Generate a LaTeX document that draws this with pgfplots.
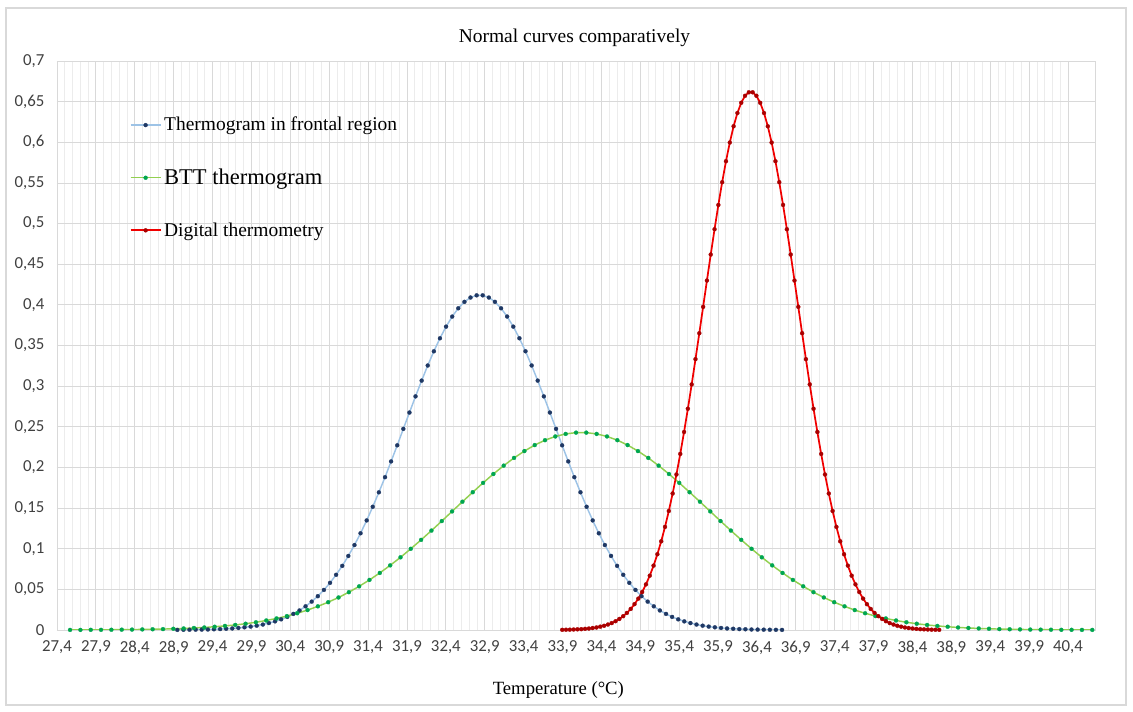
\documentclass[border=0pt]{standalone}
\usepackage{fontspec}
\setmainfont{Liberation Serif}
\newfontfamily\calibri{Carlito}
\usepackage{pgfplots}
\usepackage{pgfplotstable}
\pgfplotsset{compat=1.18}
\definecolor{bluel}{RGB}{157,195,230}
\definecolor{blued}{RGB}{31,56,100}
\definecolor{greenl}{RGB}{146,208,80}
\definecolor{greend}{RGB}{0,166,80}
\definecolor{redl}{RGB}{240,0,0}
\definecolor{redd}{RGB}{170,0,0}
\definecolor{gridmaj}{RGB}{217,217,217}
\definecolor{gridmin}{RGB}{236,236,236}

\pgfplotstableread{
x y
28.947 0.0001
29.026 0.0002
29.104 0.0003
29.183 0.0004
29.261 0.0005
29.340 0.0006
29.418 0.0009
29.497 0.0011
29.575 0.0015
29.654 0.0019
29.732 0.0025
29.811 0.0033
29.890 0.0042
29.968 0.0053
30.047 0.0067
30.125 0.0085
30.204 0.0106
30.282 0.0131
30.361 0.0161
30.439 0.0198
30.518 0.0240
30.596 0.0291
30.675 0.0349
30.754 0.0416
30.832 0.0493
30.911 0.0580
30.989 0.0679
31.068 0.0789
31.146 0.0911
31.225 0.1045
31.303 0.1190
31.382 0.1348
31.460 0.1516
31.539 0.1694
31.618 0.1880
31.696 0.2074
31.775 0.2272
31.853 0.2474
31.932 0.2675
32.010 0.2874
32.089 0.3068
32.167 0.3254
32.246 0.3429
32.324 0.3589
32.403 0.3732
32.482 0.3856
32.560 0.3958
32.639 0.4037
32.717 0.4090
32.796 0.4117
32.874 0.4117
32.953 0.4090
33.031 0.4037
33.110 0.3958
33.188 0.3856
33.267 0.3732
33.346 0.3589
33.424 0.3429
33.503 0.3254
33.581 0.3068
33.660 0.2874
33.738 0.2675
33.817 0.2474
33.895 0.2272
33.974 0.2074
34.052 0.1880
34.131 0.1694
34.210 0.1516
34.288 0.1348
34.367 0.1190
34.445 0.1045
34.524 0.0911
34.602 0.0789
34.681 0.0679
34.759 0.0580
34.838 0.0493
34.916 0.0416
34.995 0.0349
35.074 0.0291
35.152 0.0240
35.231 0.0198
35.309 0.0161
35.388 0.0131
35.466 0.0106
35.545 0.0085
35.623 0.0067
35.702 0.0053
35.780 0.0042
35.859 0.0033
35.938 0.0025
36.016 0.0019
36.095 0.0015
36.173 0.0011
36.252 0.0009
36.330 0.0006
36.409 0.0005
36.487 0.0004
36.566 0.0003
36.644 0.0002
36.723 0.0001
}\blue

\pgfplotstableread{
x y
27.568 0.0001
27.701 0.0001
27.834 0.0002
27.966 0.0002
28.099 0.0003
28.232 0.0004
28.365 0.0005
28.497 0.0007
28.630 0.0009
28.763 0.0011
28.896 0.0015
29.028 0.0019
29.161 0.0025
29.294 0.0031
29.427 0.0040
29.560 0.0050
29.692 0.0062
29.825 0.0077
29.958 0.0095
30.091 0.0117
30.223 0.0142
30.356 0.0171
30.489 0.0206
30.622 0.0245
30.754 0.0291
30.887 0.0342
31.020 0.0400
31.153 0.0465
31.285 0.0537
31.418 0.0616
31.551 0.0702
31.684 0.0795
31.817 0.0894
31.949 0.0999
32.082 0.1109
32.215 0.1223
32.348 0.1340
32.480 0.1459
32.613 0.1578
32.746 0.1695
32.879 0.1810
33.011 0.1919
33.144 0.2022
33.277 0.2117
33.410 0.2201
33.543 0.2275
33.675 0.2335
33.808 0.2381
33.941 0.2412
34.074 0.2428
34.206 0.2428
34.339 0.2412
34.472 0.2381
34.605 0.2335
34.737 0.2275
34.870 0.2201
35.003 0.2117
35.136 0.2022
35.269 0.1919
35.401 0.1810
35.534 0.1695
35.667 0.1578
35.800 0.1459
35.932 0.1340
36.065 0.1223
36.198 0.1109
36.331 0.0999
36.463 0.0894
36.596 0.0795
36.729 0.0702
36.862 0.0616
36.995 0.0537
37.127 0.0465
37.260 0.0400
37.393 0.0342
37.526 0.0291
37.658 0.0245
37.791 0.0206
37.924 0.0171
38.057 0.0142
38.189 0.0117
38.322 0.0095
38.455 0.0077
38.588 0.0062
38.720 0.0050
38.853 0.0040
38.986 0.0031
39.119 0.0025
39.252 0.0019
39.384 0.0015
39.517 0.0011
39.650 0.0009
39.783 0.0007
39.915 0.0005
40.048 0.0004
40.181 0.0003
40.314 0.0002
40.446 0.0002
40.579 0.0001
40.712 0.0001
}\green

\pgfplotstableread{
x y
33.896 0.0002
33.945 0.0003
33.994 0.0004
34.043 0.0006
34.092 0.0008
34.141 0.0010
34.190 0.0014
34.239 0.0018
34.288 0.0024
34.337 0.0031
34.386 0.0041
34.435 0.0052
34.484 0.0067
34.533 0.0085
34.582 0.0108
34.631 0.0136
34.680 0.0170
34.728 0.0210
34.777 0.0259
34.826 0.0318
34.875 0.0386
34.924 0.0467
34.973 0.0561
35.022 0.0668
35.071 0.0792
35.120 0.0932
35.169 0.1091
35.218 0.1268
35.267 0.1464
35.316 0.1679
35.365 0.1913
35.414 0.2166
35.463 0.2436
35.512 0.2722
35.561 0.3021
35.610 0.3332
35.659 0.3651
35.708 0.3975
35.757 0.4299
35.806 0.4619
35.855 0.4930
35.904 0.5229
35.953 0.5509
36.002 0.5767
36.051 0.5997
36.100 0.6197
36.149 0.6360
36.198 0.6486
36.247 0.6572
36.296 0.6615
36.345 0.6615
36.393 0.6572
36.442 0.6486
36.491 0.6360
36.540 0.6197
36.589 0.5997
36.638 0.5767
36.687 0.5509
36.736 0.5229
36.785 0.4930
36.834 0.4619
36.883 0.4299
36.932 0.3975
36.981 0.3651
37.030 0.3332
37.079 0.3021
37.128 0.2722
37.177 0.2436
37.226 0.2166
37.275 0.1913
37.324 0.1679
37.373 0.1464
37.422 0.1268
37.471 0.1091
37.520 0.0932
37.569 0.0792
37.618 0.0668
37.667 0.0561
37.716 0.0467
37.765 0.0386
37.814 0.0318
37.863 0.0259
37.912 0.0210
37.961 0.0170
38.010 0.0136
38.059 0.0108
38.107 0.0085
38.156 0.0067
38.205 0.0052
38.254 0.0041
38.303 0.0031
38.352 0.0024
38.401 0.0018
38.450 0.0014
38.499 0.0010
38.548 0.0008
38.597 0.0006
38.646 0.0004
38.695 0.0003
38.744 0.0002
}\red

\begin{document}
\begin{tikzpicture}
\begin{axis}[
  scale only axis,
  width=778.5pt, height=426.75pt,
  xmin=27.4, xmax=40.747, ymin=0, ymax=0.7,
  xtick={27.4,27.9,28.4,28.9,29.4,29.9,30.4,30.9,31.4,31.9,32.4,32.9,33.4,33.9,34.4,34.9,35.4,35.9,36.4,36.9,37.4,37.9,38.4,38.9,39.4,39.9,40.4},
  ytick={0,0.05,0.1,0.15,0.2,0.25,0.3,0.35,0.4,0.45,0.5,0.55,0.6,0.65,0.7},
  minor x tick num=4,
  xmajorgrids, xminorgrids, ymajorgrids,
  major grid style={draw=gridmaj, line width=0.6pt},
  minor grid style={draw=gridmin, line width=0.6pt},
  major tick length=0pt, minor tick length=0pt,
  axis line style={draw=gridmaj, line width=0.6pt},
  /pgf/number format/assume math mode=true,
  xticklabel style={font=\calibri\fontsize{12.6}{14}\selectfont, text=black!75, yshift=-4.5pt,
    /pgf/number format/.cd, fixed, fixed zerofill, precision=1, use comma},
  yticklabel style={font=\calibri\fontsize{12.6}{14}\selectfont, text=black!75, xshift=-6pt,
    /pgf/number format/.cd, fixed, precision=2, use comma},
  scaled y ticks=false, scaled x ticks=false,
  title={Normal curves comparatively},
  title style={font=\fontsize{14.6}{17}\selectfont, at={(axis description cs:0.4985,1)}, anchor=center, yshift=11.25pt},
  xlabel={Temperature (°C)},
  xlabel style={font=\fontsize{14}{16}\selectfont, at={(axis description cs:0.483,0)}, anchor=center, yshift=-45pt},
  legend style={draw=none, fill=none, at={(axis description cs:0.066,0.911)}, anchor=north west,
    row sep=23pt, font=\fontsize{14.6}{17}\selectfont},
  legend cell align=left,
  legend image code/.code={\draw[mark repeat=2,mark phase=2,#1] plot coordinates {(0pt,0pt) (11.25pt,0pt) (22.5pt,0pt)};},
]
\addplot[color=bluel, line width=1.1pt, mark=*, mark size=1.5pt, mark options={draw=blued, fill=blued, line width=0.2pt}] table {\blue};
\addlegendentry{Thermogram in frontal region}
\addplot[color=greenl, line width=1.1pt, mark=*, mark size=1.5pt, mark options={draw=greend, fill=greend, line width=0.2pt}] table {\green};
\addlegendentry{\fontsize{16.9}{19}\selectfont BTT thermogram}
\addplot[color=redl, line width=1.3pt, mark=*, mark size=1.5pt, mark options={draw=redd, fill=redd, line width=0.2pt}] table {\red};
\addlegendentry{Digital thermometry}
\end{axis}
\draw[gridmaj, line width=0.8pt] (-38.25pt,-56.25pt) rectangle (801.75pt,466.5pt);
\pgfresetboundingbox
\path[use as bounding box] (-42.75pt,-61.5pt) rectangle (807pt,472.5pt);
\end{tikzpicture}
\end{document}
